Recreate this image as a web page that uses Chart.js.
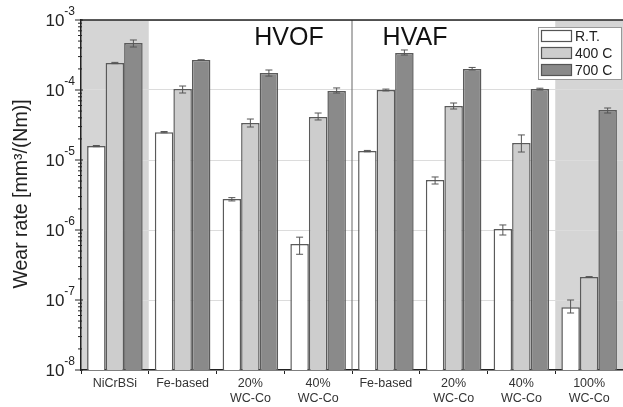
<!DOCTYPE html>
<html>
<head>
<meta charset="utf-8">
<script src="https://cdn.jsdelivr.net/npm/chart.js@4/dist/chart.umd.min.js"></script>
<style>
  body { margin: 0; background: #fff; }
  #wrap { width: 623px; height: 407px; }
</style>
</head>
<body>
<div id="wrap"><canvas id="chart1"></canvas></div>
<script>
// coatings (HVOF group first, then HVAF)
const categories = ["NiCrBSi", "Fe-based", ["20%", "WC-Co"], ["40%", "WC-Co"],
                    "Fe-based", ["20%", "WC-Co"], ["40%", "WC-Co"], ["100%", "WC-Co"]];
const seriesNames = ["R.T.", "400 C", "700 C"];

// wear rate, mm3/(Nm)
const rt   = [1.58e-5, 2.5e-5, 2.77e-6, 6.3e-7, 1.34e-5, 5.2e-6, 1.03e-6, 7.9e-8];
const c400 = [2.43e-4, 1.03e-4, 3.38e-5, 4.1e-5, 1.0e-4, 5.9e-5, 1.75e-5, 2.13e-7];
const c700 = [4.7e-4, 2.68e-4, 1.75e-4, 9.7e-5, 3.38e-4, 2.0e-4, 1.03e-4, 5.18e-5];

// error bar ends
const rtLow    = [1.55e-5, 2.45e-5, 2.6e-6, 4.5e-7, 1.31e-5, 4.54e-6, 8.48e-7, 6.52e-8];
const rtHigh   = [1.61e-5, 2.55e-5, 2.9e-6, 7.9e-7, 1.37e-5, 5.72e-6, 1.18e-6, 1.0e-7];
const c400Low  = [2.38e-4, 9.06e-5, 2.96e-5, 3.73e-5, 9.7e-5, 5.35e-5, 1.3e-5, 2.1e-7];
const c400High = [2.48e-4, 1.14e-4, 3.85e-5, 4.69e-5, 1.03e-4, 6.52e-5, 2.28e-5, 2.16e-7];
const c700Low  = [4.11e-4, 2.66e-4, 1.58e-4, 9.06e-5, 3.16e-4, 1.93e-4, 1.0e-4, 4.69e-5];
const c700High = [5.18e-4, 2.7e-4, 1.93e-4, 1.07e-4, 3.73e-4, 2.1e-4, 1.06e-4, 5.53e-5];

const yExponents = [-8, -7, -6, -5, -4, -3];
const shadedCategories = [0, 7];
const groupLabels = ["HVOF", "HVAF"];

const errLow = [rtLow, c400Low, c700Low];
const errHigh = [rtHigh, c400High, c700High];
const fills = ["#ffffff", "#cdcdcd", "#8a8a8a"];
const FONT = "'Liberation Sans', Arial, sans-serif";

function isDecade(v) {
    const l = Math.log10(v);
    return Math.abs(l - Math.round(l)) < 1e-6;
}

const extras = {
    id: "extras",
    beforeDraw(chart) {
        const ctx = chart.ctx, a = chart.chartArea, x = chart.scales.x;
        const w = x.getPixelForValue(1) - x.getPixelForValue(0);
        ctx.save();
        ctx.fillStyle = "#d5d5d5";
        for (let i of shadedCategories) {
            const c = x.getPixelForValue(i);
            const l = Math.max(a.left, c - w / 2);
            const r = Math.min(a.right, c + w / 2);
            ctx.fillRect(l, a.top, r - l, a.bottom - a.top);
        }
        ctx.restore();
    },
    afterDatasetsDraw(chart) {
        const ctx = chart.ctx, y = chart.scales.y;
        ctx.save();
        ctx.strokeStyle = "#555";
        ctx.lineWidth = 1;
        for (let d = 0; d < 3; d++) {
            const meta = chart.getDatasetMeta(d);
            meta.data.forEach((bar, j) => {
                const y1 = y.getPixelForValue(errLow[d][j]);
                const y2 = y.getPixelForValue(errHigh[d][j]);
                ctx.beginPath();
                ctx.moveTo(bar.x, y1); ctx.lineTo(bar.x, y2);
                ctx.moveTo(bar.x - 3.5, y1); ctx.lineTo(bar.x + 3.5, y1);
                ctx.moveTo(bar.x - 3.5, y2); ctx.lineTo(bar.x + 3.5, y2);
                ctx.stroke();
            });
        }
        ctx.restore();
    },
    afterDraw(chart) {
        const ctx = chart.ctx, a = chart.chartArea, x = chart.scales.x, y = chart.scales.y;
        ctx.save();

        // HVOF / HVAF divider
        const xd = (x.getPixelForValue(3) + x.getPixelForValue(4)) / 2;
        ctx.strokeStyle = "#666";
        ctx.lineWidth = 1;
        ctx.beginPath();
        ctx.moveTo(xd, a.top); ctx.lineTo(xd, a.bottom);
        ctx.stroke();

        // top frame line
        ctx.strokeStyle = "#222";
        ctx.lineWidth = 1.5;
        ctx.beginPath();
        ctx.moveTo(a.left, a.top); ctx.lineTo(a.right, a.top);
        ctx.stroke();

        // y ticks
        ctx.lineWidth = 1;
        ctx.strokeStyle = "#222";
        for (let t of y.ticks) {
            const py = y.getPixelForValue(t.value);
            const major = isDecade(t.value);
            ctx.beginPath();
            ctx.moveTo(a.left - (major ? 6 : 3), py);
            ctx.lineTo(a.left + (major ? 2 : 1), py);
            ctx.stroke();
        }

        // y labels 10^n
        ctx.fillStyle = "#222";
        ctx.textBaseline = "middle";
        for (let e of yExponents) {
            const py = y.getPixelForValue(Math.pow(10, e));
            const sup = String(e);
            ctx.font = "12px " + FONT;
            const sw = ctx.measureText(sup).width;
            ctx.textAlign = "left";
            ctx.fillText(sup, 75 - sw, py - 8);
            ctx.font = "17px " + FONT;
            ctx.textAlign = "right";
            ctx.fillText("10", 75 - sw, py + 1);
        }

        // y title
        ctx.save();
        ctx.translate(22, 194);
        ctx.rotate(-Math.PI / 2);
        ctx.textAlign = "center";
        ctx.textBaseline = "middle";
        ctx.font = "19.5px " + FONT;
        ctx.fillStyle = "#222";
        ctx.fillText("Wear rate [mm\u00b3/(Nm)]", 0, 0);
        ctx.restore();

        // group labels
        ctx.font = "25px " + FONT;
        ctx.fillStyle = "#111";
        ctx.textAlign = "center";
        ctx.textBaseline = "middle";
        ctx.fillText(groupLabels[0], 289, 38);
        ctx.fillText(groupLabels[1], 415, 38);

        // legend
        ctx.fillStyle = "#fff";
        ctx.fillRect(538, 27, 84, 52);
        ctx.strokeStyle = "#999";
        ctx.lineWidth = 1;
        ctx.strokeRect(538.5, 27.5, 83, 52);
        ctx.font = "14px " + FONT;
        ctx.textAlign = "left";
        chart.data.datasets.forEach((ds, i) => {
            const cy = 36 + i * 17;
            ctx.fillStyle = ds.backgroundColor;
            ctx.fillRect(541, cy - 6, 31, 12);
            ctx.strokeStyle = "#555";
            ctx.lineWidth = 1.2;
            ctx.strokeRect(541.5, cy - 5.5, 30, 11);
            ctx.fillStyle = "#222";
            ctx.fillText(ds.label, 575, cy + 1);
        });

        ctx.restore();
    }
};

new Chart("chart1", {
    type: "bar",
    data: {
        labels: categories,
        datasets: [rt, c400, c700].map((vals, i) => ({
            label: seriesNames[i],
            data: vals,
            backgroundColor: fills[i],
            borderColor: "#5a5a5a",
            borderWidth: 1.5,
            categoryPercentage: 0.82,
            barPercentage: 1.0
        }))
    },
    options: {
        responsive: true,
        maintainAspectRatio: false,
        animation: false,
        layout: { padding: { left: 0, right: 0, top: 20, bottom: 0 } },
        plugins: { legend: { display: false }, tooltip: { enabled: false } },
        scales: {
            x: {
                offset: true,
                grid: { offset: true, drawOnChartArea: false, tickLength: 4, color: "#222", tickColor: "#222" },
                border: { display: true, color: "#222", width: 1.5 },
                ticks: { color: "#333", font: { family: FONT, size: 12.5, lineHeight: 1.2 }, padding: 2, maxRotation: 0, autoSkip: false },
                afterFit(scale) { scale.height = 37; }
            },
            y: {
                type: "logarithmic",
                min: 1e-8,
                max: 1e-3,
                afterBuildTicks(scale) {
                    const t = [];
                    for (let e = -8; e < -3; e++)
                        for (let m = 1; m <= 9; m++) t.push({ value: m * Math.pow(10, e) });
                    t.push({ value: 1e-3 });
                    scale.ticks = t;
                },
                grid: {
                    drawTicks: false,
                    tickLength: 0,
                    color: c => (c.tick && isDecade(c.tick.value) ? "#dcdcdc" : "rgba(0,0,0,0)")
                },
                border: { display: true, color: "#222", width: 1.5 },
                ticks: { display: false },
                afterFit(scale) { scale.width = 81; }
            }
        }
    },
    plugins: [extras]
});
</script>
</body>
</html>
